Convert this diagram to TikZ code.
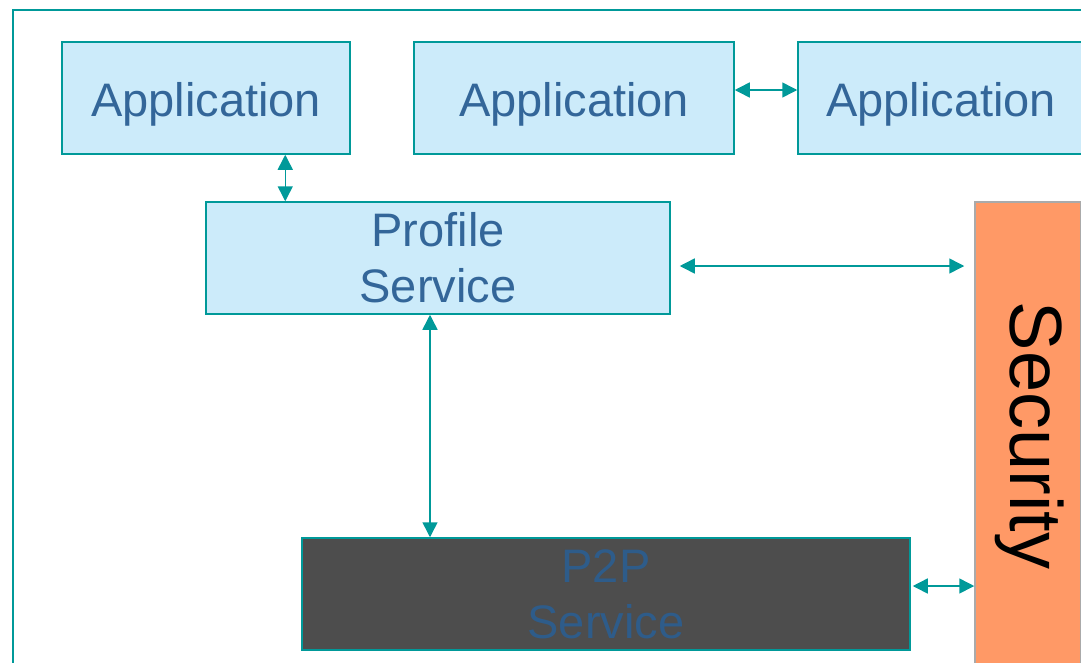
\documentclass[tikz,border=0pt]{standalone}
\usepackage{fontspec}
\setmainfont{Liberation Sans}
\usetikzlibrary{arrows.meta,calc}
\definecolor{teal}{HTML}{009999}
\definecolor{boxfill}{HTML}{CCEBFA}
\definecolor{boxtext}{HTML}{336699}
\definecolor{darkfill}{HTML}{4D4D4D}
\definecolor{secfill}{HTML}{FF9966}
\definecolor{secline}{HTML}{AAAAAA}
\tikzset{
  x=1pt, y=-1pt,
  block/.style={draw=teal, line width=1.5pt, fill=boxfill, text=boxtext,
    align=center, inner sep=0pt, minimum height=112pt,
    font=\fontsize{47}{56}\selectfont},
  appblock/.style={block, text height=46pt, text depth=10pt},
  darkblock/.style={block, fill=darkfill, text=boxtext!90!black},
  secblock/.style={draw=secline, line width=1.5pt, fill=secfill, inner sep=0pt,
    minimum width=106pt, minimum height=466pt},
  link/.style={draw=teal, line width=1.5pt,
    {Triangle[length=15pt,width=15pt]}-{Triangle[length=15pt,width=15pt]}},
}
\begin{document}
\begin{tikzpicture}
\useasboundingbox (0,0) rectangle (1081,662);
\clip (0,0) rectangle (1081,662);
% outer frame
\draw[teal, line width=1.5pt] (13,10) rectangle (1120,720);
% boxes
\node[appblock, minimum width=288pt] (app1) at (206,98) {Application};
\node[appblock, minimum width=320pt] (app2) at (574,98) {Application};
\node[appblock, minimum width=286pt] (app3) at (941,98) {Application};
\node[block, minimum width=464pt] (profile) at (438,258) {Profile\\Service};
\node[darkblock, minimum width=608pt] (p2p) at (606,594) {P2P\\Service};
\node[secblock] (security) at (1028,435) {};
\node[rotate=-90, inner sep=0pt, font=\fontsize{74}{80}\selectfont] (sectext) at (1030,435.5) {Security};
% connectors
\draw[link] ([xshift=224pt]app1.south west) -- ([xshift=80pt]profile.north west);
\draw[link] ([yshift=8pt]app2.east) -- ([yshift=8pt]app3.west);
\draw[link, shorten <=9pt, shorten >=10pt] ([yshift=-8pt]profile.east) -- ([yshift=-8pt]profile.east -| security.west);
\draw[link] ([xshift=-8pt]profile.south) -- ([xshift=-8pt]profile.south |- p2p.north);
\draw[link, shorten <=2pt] ([yshift=8pt]p2p.east) -- ([yshift=8pt]p2p.east -| security.west);
\end{tikzpicture}
\end{document}
